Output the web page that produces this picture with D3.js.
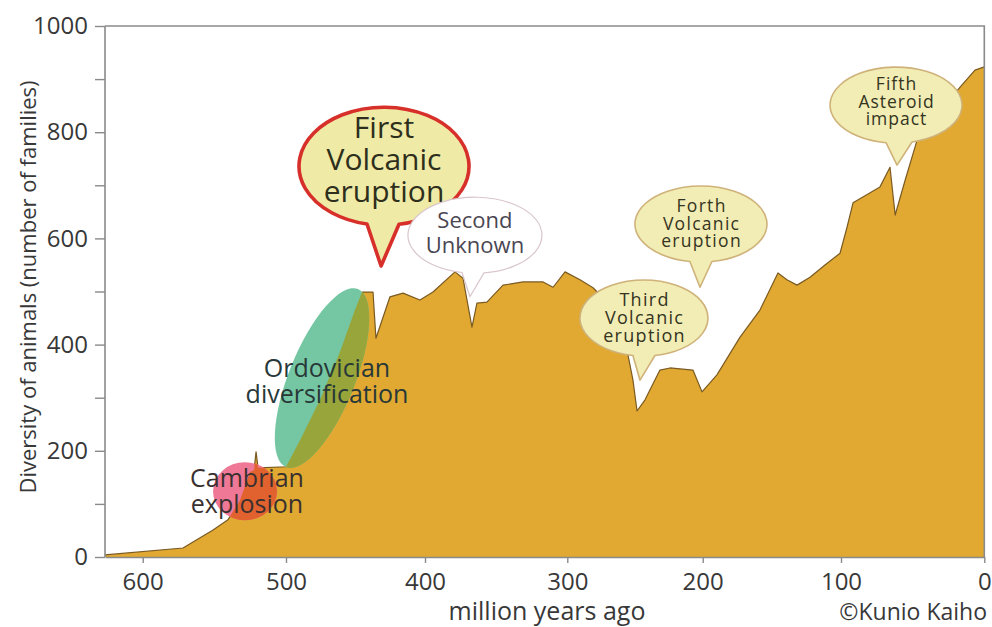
<!DOCTYPE html>
<html><head><meta charset="utf-8">
<script src="https://cdn.jsdelivr.net/npm/d3@7"></script>
<style>
html,body{margin:0;padding:0;background:#fff;}
svg{display:block;font-family:"Open Sans",sans-serif;}
</style></head><body>
<svg id="chart" width="992" height="627"></svg>
<script>
// ---- data (million years ago, number of families) ----
const ages = [626.3, 571.9, 550.9, 540.5, 532.1, 525.1, 522.3, 520.9, 519.5, 500,
  489.9, 475.5, 461.2, 450.4, 445.3, 437.4, 435.3, 425.2, 415.8, 403.6,
  394.4, 378.9, 373.3, 367, 363.5, 356.5, 345.2, 331.1, 317, 310,
  301.6, 290.6, 281, 268.5, 257.4, 251.5, 248.5, 242.6, 231.6, 224.2,
  207.2, 200.5, 189.7, 173, 158.6, 145.6, 139.1, 131.8, 122.4, 111.6,
  100.7, 95.8, 91.6, 72.8, 65.8, 62.2, 55.2, 46.9, 16.9, 6.5, 0];
const families = [4, 17, 51, 70, 107, 160, 164, 198, 168, 170,
  220, 296, 386, 465, 499, 499, 412, 490, 497, 484,
  499, 537, 525, 433, 478, 480, 512, 518, 518, 508,
  537, 522, 507, 475, 409, 333, 275, 296, 352, 356,
  352, 311, 343, 414, 465, 535, 522, 512, 527, 550,
  572, 621, 667, 697, 734, 644, 710, 785, 885, 917, 923];
const xTickValues = [600, 500, 400, 300, 200, 100, 0];
const yTickValues = [0, 100, 200, 300, 400, 500, 600, 700, 800, 900, 1000];
const yLabelValues = [0, 200, 400, 600, 800, 1000];

// events: label lines, bubble centre (age, families), tail tip (age, families)
const eventLines = [["First", "Volcanic", "eruption"], ["Second", "Unknown"],
  ["Third", "Volcanic", "eruption"], ["Forth", "Volcanic", "eruption"],
  ["Fifth", "Asteroid", "impact"]];
const eventCenterAge = [429.5, 364.9, 243.4, 201.3, 61.6];
const eventCenterVal = [736, 606, 450, 627, 851];
const eventTipAge = [431.6, 368.4, 246.3, 202, 60.9];
const eventTipVal = [548, 490, 333, 508, 738];

const phaseLines = [["Cambrian", "explosion"], ["Ordovician", "diversification"]];
const phaseAge = [528.6, 474.1];
const phaseVal = [124, 337];

// ---- layout ----
const data = ages.map((a, i) => ({age: a, v: families[i]}));
const svg = d3.select("#chart");
const x = d3.scaleLinear()
  .domain([626.3, 600, 500, 400, 300, 200, 100, 0])
  .range([105, 142.7, 286, 425, 567.3, 702.7, 841, 984.3]);
const y = d3.scaleLinear().domain([0, 1000]).range([557, 26]);
const txt = "#383838";

// area
const area = d3.area().x(d => x(d.age)).y0(y(0)).y1(d => y(d.v));
const line = d3.line().x(d => x(d.age)).y(d => y(d.v));
svg.append("defs").append("clipPath").attr("id", "areaClip")
  .append("path").datum(data).attr("d", area);
svg.append("path").datum(data).attr("d", area).attr("fill", "#e1a931");
svg.append("path").datum(data).attr("d", line).attr("fill", "none")
  .attr("stroke", "#7a5a22").attr("stroke-width", 1.2).attr("stroke-linejoin", "round");

// phase ellipses (colour on white, colour where they overlap the area)
const ell = [
  {rx: 32, ry: 29, rot: 0, fill: "#ef7896", over: "#e1622e"},
  {rx: 33, ry: 96, rot: 22, fill: "#74c7a2", over: "#98a53a"}
];
ell.forEach((e, i) => {
  const tr = `translate(${x(phaseAge[i])},${y(phaseVal[i])}) rotate(${e.rot})`;
  svg.append("ellipse").attr("transform", tr)
    .attr("rx", e.rx).attr("ry", e.ry).attr("fill", e.fill);
  svg.append("g").attr("clip-path", "url(#areaClip)")
    .append("ellipse").attr("transform", tr)
    .attr("rx", e.rx).attr("ry", e.ry).attr("fill", e.over);
});

// phase labels
const phaseText = [
  {cx: 247, base: 487, fs: 25, gap: 26},
  {cx: 327, base: 377, fs: 25, gap: 25.5}
];
phaseText.forEach((p, i) => {
  const t = svg.append("text").attr("text-anchor", "middle")
    .attr("font-size", p.fs).attr("fill", i === 0 ? "#3a3030" : "#283838");
  phaseLines[i].forEach((s, j) => t.append("tspan").attr("x", p.cx).attr("y", p.base + j * p.gap).text(s));
});

// axes
const yAxis = d3.axisLeft(y).tickValues(yTickValues).tickSize(10).tickPadding(7)
  .tickFormat(d => yLabelValues.includes(d) ? d : "");
const gy = svg.append("g").attr("transform", `translate(105,0)`).call(yAxis);
const xAxis = d3.axisBottom(x).tickValues(xTickValues).tickSize(6).tickPadding(10).tickSizeOuter(0);
const gx = svg.append("g").attr("transform", `translate(0,557)`).call(xAxis);
[gx, gy].forEach(g => {
  g.select(".domain").attr("stroke", "#8a8a8a").attr("stroke-width", 1.6);
  g.selectAll(".tick line").attr("stroke", "#8a8a8a").attr("stroke-width", 1.4);
  g.selectAll(".tick text").attr("font-size", 24).attr("fill", txt)
    .attr("font-family", "Open Sans, sans-serif");
});
gy.select(".domain").attr("d", `M0,${y(1000)}V${y(0)}`);
// frame top & right
svg.append("path").attr("d", `M${x(626.3)},${y(1000)}H${x(0)}V${y(0)}`)
  .attr("fill", "none").attr("stroke", "#8a8a8a").attr("stroke-width", 1.6);

// axis titles
svg.append("text").attr("x", 547).attr("y", 620).attr("text-anchor", "middle")
  .attr("font-size", 25).attr("fill", txt).text("million years ago");
svg.append("text").attr("x", 987).attr("y", 620).attr("text-anchor", "end")
  .attr("font-size", 23).attr("fill", txt).text("\u00A9Kunio Kaiho");
svg.append("text").attr("transform", "translate(36,287) rotate(-90)")
  .attr("text-anchor", "middle").attr("font-size", 22).attr("fill", txt)
  .text("Diversity of animals (number of families)");

// speech bubbles
const bubbleStyle = [
  {rx: 85, ry: 59, bOff: -1, hw: 16, fill: "#efeaa6", stroke: "#d7302a", sw: 3.6, fs: 30, gap: 32, first: -28, color: "#2e2e1c", ls: 0},
  {rx: 67, ry: 38, bOff: -2, hw: 11, fill: "#ffffff", stroke: "#d9c6cc", sw: 1.2, fs: 22, gap: 25, first: -7, color: "#4a4652", ls: 0},
  {rx: 64, ry: 38, bOff: 0, hw: 11, fill: "#f1edb4", stroke: "#cfb27a", sw: 1.6, fs: 18, gap: 18, first: -12, color: "#34341f", ls: 1.3},
  {rx: 66, ry: 38, bOff: 0, hw: 11, fill: "#f1edb4", stroke: "#cfb27a", sw: 1.6, fs: 17.5, gap: 17.5, first: -12, color: "#34341f", ls: 1.3},
  {rx: 66, ry: 38, bOff: 3, hw: 13, fill: "#f1edb4", stroke: "#cfb27a", sw: 1.6, fs: 17.5, gap: 17.5, first: -15, color: "#34341f", ls: 1.0}
];
function bubblePath(cx, cy, rx, ry, bx, hw, tx, ty) {
  const yAt = xx => cy + ry * Math.sqrt(Math.max(0, 1 - ((xx - cx) / rx) ** 2));
  const x1 = bx - hw, x2 = bx + hw;
  return `M${x1},${yAt(x1)}L${tx},${ty}L${x2},${yAt(x2)}A${rx},${ry} 0 1 0 ${x1},${yAt(x1)}Z`;
}
eventLines.forEach((lines, i) => {
  const s = bubbleStyle[i];
  const cx = x(eventCenterAge[i]), cy = y(eventCenterVal[i]);
  const tx = x(eventTipAge[i]), ty = y(eventTipVal[i]);
  svg.append("path").attr("d", bubblePath(cx, cy, s.rx, s.ry, cx + s.bOff, s.hw, tx, ty))
    .attr("fill", s.fill).attr("stroke", s.stroke).attr("stroke-width", s.sw)
    .attr("stroke-linejoin", "round");
  const t = svg.append("text").attr("text-anchor", "middle").attr("font-size", s.fs)
    .attr("fill", s.color).attr("letter-spacing", s.ls);
  lines.forEach((l, j) => t.append("tspan").attr("x", cx + s.ls / 2).attr("y", cy + s.first + j * s.gap).text(l));
});
</script>
</body></html>
